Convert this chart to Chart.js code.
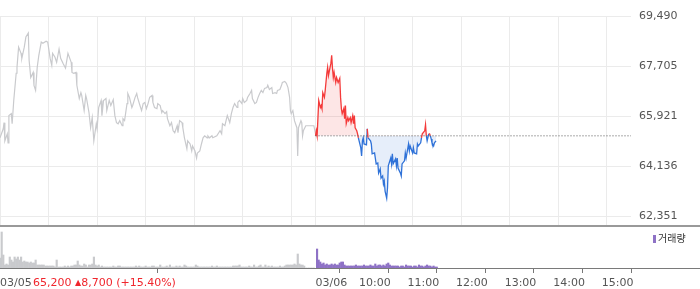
<!DOCTYPE html>
<html>
<head>
<meta charset="utf-8">
<script src="https://cdn.jsdelivr.net/npm/chart.js@4.4.1/dist/chart.umd.min.js"></script>
<style>
    html, body { margin: 0; padding: 0; background: #fff; }
    #wrap { position: relative; width: 700px; height: 289px; overflow: hidden; font-family: "DejaVu Sans", sans-serif; }
    #priceBox { position: absolute; left: 0; top: 0; width: 700px; height: 225px; overflow: hidden; }
    #volumeBox { position: absolute; left: 0; top: 227px; width: 700px; height: 62px; }
    .sep { position: absolute; left: 0; top: 225px; width: 700px; height: 2px; background: #999; }
    .baseline { position: absolute; left: 0; top: 268px; width: 700px; height: 1px; background: #7a7a7a; }
    #legend { position: absolute; left: 653px; top: 232px; font-size: 10px; color: #333; line-height: 12px; font-family: "Noto Sans CJK KR", sans-serif; }
    #legend i { display: inline-block; width: 3px; height: 8px; background: #8e72c6; margin-right: 2px; vertical-align: -1px; }
    #quote { position: absolute; left: 33px; top: 276px; font-size: 11px; line-height: 14px; color: #f0262d; white-space: nowrap; }
    #quote .tri { font-size: 8px; vertical-align: 1px; }
</style>
</head>
<body>
<div id="wrap">
    <div id="priceBox"><canvas id="priceChart" width="700" height="241"></canvas></div>
    <div class="sep"></div>
    <div id="volumeBox"><canvas id="volumeChart" width="700" height="62"></canvas></div>
    <div class="baseline"></div>
    <div id="legend"><i></i>거래량</div>
    <div id="quote">65,200 <span class="tri">▲</span>8,700 (+15.40%)</div>
</div>
<script>
// 03/05 시세 (09:00 기준 경과 분, 가격)
const prevMinutes = [0, 4, 5, 6, 9, 10, 11, 14, 15, 17, 20, 21, 23, 26, 27, 30, 32, 35, 36, 38,
    41, 42, 44, 46, 48, 51, 53, 57, 59, 62, 64, 65, 68, 70, 73, 75, 78, 81, 84, 88,
    89, 91, 94, 95, 98, 100, 101, 104, 106, 107, 110, 112, 114, 116, 119, 120, 122, 125, 126, 128,
    131, 132, 135, 137, 140, 142, 144, 146, 148, 151, 152, 154, 157, 158, 160, 163, 164, 167, 169, 170,
    173, 175, 177, 179, 181, 183, 185, 188, 189, 191, 194, 195, 198, 200, 201, 204, 206, 207, 210, 212,
    214, 216, 219, 220, 222, 225, 226, 228, 231, 232, 235, 237, 238, 241, 243, 244, 247, 249, 251, 253,
    256, 257, 259, 262, 263, 268, 272, 274, 275, 278, 280, 281, 284, 286, 288, 290, 293, 294, 296, 299,
    300, 302, 305, 306, 309, 311, 312, 315, 317, 319, 321, 323, 325, 327, 330, 331, 333, 336, 337, 340,
    342, 343, 346, 348, 349, 352, 354, 356, 358, 359, 360, 362, 364, 367, 368, 369, 372, 373, 374, 375,
    378, 383, 388, 390];
const prevPrices = [65150, 65470, 65690, 65040, 65290, 64970, 65940, 66010, 65650, 66480, 67450, 67660, 68380, 68160, 67980, 68380, 68740, 68880, 67910, 67300,
    67480, 67020, 66840, 67660, 68090, 68560, 68520, 68590, 68560, 67980, 67730, 68160, 68020, 67840, 68310, 67980, 67800, 67630, 68160, 67840,
    67480, 67450, 67480, 67020, 66550, 66760, 66660, 66120, 66660, 66550, 66050, 65510, 65870, 65040, 65650, 65470, 66230, 66480, 65940, 66480,
    66550, 66120, 66480, 66300, 66510, 65940, 65690, 65650, 65760, 65580, 65830, 65760, 66370, 66730, 66590, 66230, 66300, 66590, 66730, 66590,
    66300, 66120, 66370, 66410, 66190, 66370, 66590, 66660, 66410, 66230, 66190, 66370, 66300, 66050, 66120, 66010, 66080, 65830, 65580, 65690,
    65400, 65330, 65580, 65330, 65760, 65690, 65510, 65150, 64760, 65040, 64930, 64680, 64860, 64680, 64430, 64610, 64680, 64930, 65150, 65220,
    65150, 65220, 65150, 65220, 65150, 65220, 65400, 65290, 65650, 65580, 65830, 65940, 65690, 66010, 66230, 66370, 66230, 66410, 66480, 66370,
    66550, 66410, 66480, 66590, 66730, 66840, 66550, 66370, 66410, 66590, 66730, 66840, 66760, 66910, 66940, 67020, 66870, 66940, 66730, 66760,
    66730, 66840, 66870, 67020, 67120, 67160, 67090, 66940, 66590, 66120, 66010, 66120, 65760, 65510, 64500, 65510, 65760, 65690, 65220, 65400,
    65580, 65580, 65580, 65290];

// 03/06 시세 (09:00 기준 경과 분, 가격)
const curMinutes = [0, 1, 2, 4, 6, 7, 8, 9, 11, 12, 14, 15, 16, 19, 20, 21, 22, 23, 25, 26,
    28, 30, 31, 32, 33, 35, 36, 37, 38, 40, 41, 43, 44, 46, 47, 48, 49, 51, 52, 53,
    56, 57, 58, 59, 60, 63, 64, 65, 68, 69, 70, 73, 75, 77, 78, 80, 81, 83, 84, 85,
    86, 88, 89, 90, 93, 94, 95, 96, 99, 100, 101, 102, 105, 106, 107, 110, 111, 112, 115, 116,
    117, 120, 121, 122, 125, 126, 127, 130, 131, 132, 135, 136, 137, 138, 140, 141, 142, 143, 144, 146,
    147, 149];
const curPrices = [65220, 65400, 65220, 66480, 66230, 66300, 66190, 66760, 66590, 66840, 67450, 67660, 67370, 67800, 68090, 67630, 67300, 67480, 67120, 67300,
    67120, 67270, 66590, 66190, 66010, 66190, 65830, 66300, 65650, 65870, 65760, 65870, 65690, 65940, 65650, 65940, 65510, 65400, 65290, 65150,
    64790, 64500, 65040, 65150, 64930, 64900, 65470, 65150, 65040, 64930, 64580, 64610, 64220, 64250, 63890, 64040, 63710, 63790, 63500, 63610,
    63250, 63000, 63360, 64150, 64430, 64220, 64580, 64220, 64400, 64150, 64430, 64070, 63890, 63790, 64220, 64330, 64610, 64430, 64930, 64680,
    64860, 64610, 64790, 64610, 64580, 64930, 64860, 64970, 65150, 65290, 65400, 65620, 65220, 65040, 65290, 65290, 65220, 65110, 64970, 64860,
    64970, 65040];

const basePrice = 65220;

// 거래량 (2분 단위, 천 주)
const prevVolume = [10, 36, 13, 3, 4, 3, 11, 8, 6, 11, 9, 11, 8, 11, 6, 7, 6, 6, 5, 6,
    5, 5, 8, 3, 3, 3, 3, 3, 2, 2, 2, 2, 2, 2, 1, 8, 1, 1, 1, 1,
    2, 1, 2, 1, 2, 2, 3, 3, 7, 3, 2, 2, 4, 3, 1, 3, 3, 4, 11, 3,
    2, 3, 1, 2, 1, 1, 1, 1, 1, 1, 2, 1, 1, 2, 2, 1, 1, 1, 1, 1,
    1, 1, 1, 1, 2, 1, 2, 1, 1, 1, 2, 1, 1, 1, 2, 2, 1, 1, 1, 3,
    1, 1, 1, 2, 1, 3, 1, 1, 1, 2, 1, 2, 1, 1, 3, 2, 1, 1, 1, 1,
    1, 3, 2, 1, 1, 1, 1, 1, 1, 1, 1, 2, 1, 1, 2, 1, 1, 1, 1, 1,
    1, 1, 1, 1, 2, 2, 2, 2, 3, 1, 1, 1, 1, 1, 2, 1, 1, 3, 1, 1,
    2, 3, 1, 1, 3, 1, 2, 1, 2, 1, 1, 1, 1, 2, 1, 1, 2, 3, 3, 3,
    3, 3, 4, 3, 14, 4, 3, 3, 2, 0, 0, 0, 0, 0, 0];
const curVolume = [19, 8, 6, 4, 5, 3, 4, 3, 3, 4, 3, 4, 3, 3, 5, 6, 6, 3, 2, 2,
    2, 2, 2, 2, 3, 2, 2, 2, 2, 3, 2, 2, 2, 3, 2, 2, 4, 2, 3, 3,
    2, 3, 2, 4, 5, 3, 2, 2, 2, 2, 2, 1, 2, 2, 1, 3, 2, 2, 2, 1,
    2, 2, 1, 3, 2, 2, 1, 2, 3, 2, 2, 1, 2, 1, 1];

const yTicks = [69490, 67705, 65921, 64136, 62351];
const gridMinutes = [0, 60, 120, 180, 240, 300, 360, 390, 450, 510, 570, 630, 690, 750];
const axisTicks = [0, 390, 450, 510, 570, 630, 690, 750];
const axisLabels = ['03/05', '03/06', '10:00', '11:00', '12:00', '13:00', '14:00', '15:00'];

const DAY = 390; // 09:00~15:30
const RED = '#f43a3a';
const BLUE = '#2f72d8';
const GRAY = '#c9cacd';
const AXIS_W = 69;

const prevLine = prevMinutes.map((m, i) => ({ x: m, y: prevPrices[i] }));
const curLine = curMinutes.map((m, i) => ({ x: DAY + m, y: curPrices[i] }));

new Chart(document.getElementById('priceChart'), {
    type: 'line',
    data: {
        datasets: [
            {
                // 기준가 점선
                data: [{ x: DAY, y: basePrice }, { x: 2 * DAY, y: basePrice }],
                borderColor: '#555',
                borderWidth: 1,
                borderDash: [1, 2],
                pointRadius: 0
            },
            {
                data: curLine,
                borderWidth: 1.3,
                pointRadius: 0,
                segment: {
                    borderColor: ctx => (ctx.p0.parsed.y + ctx.p1.parsed.y) / 2 >= basePrice ? RED : BLUE
                },
                fill: {
                    target: { value: basePrice },
                    above: 'rgba(240, 60, 60, 0.13)',
                    below: 'rgba(47, 114, 216, 0.12)'
                }
            },
            {
                data: prevLine,
                borderColor: GRAY,
                borderWidth: 1.2,
                pointRadius: 0
            }
        ]
    },
    options: {
        responsive: false,
        animation: false,
        layout: { padding: { top: 16, bottom: 0, left: 0, right: 0 } },
        plugins: { legend: { display: false }, tooltip: { enabled: false } },
        scales: {
            x: {
                type: 'linear',
                min: 0,
                max: 2 * DAY,
                afterBuildTicks: s => { s.ticks = gridMinutes.map(v => ({ value: v })); },
                afterFit: s => { s.height = 0; },
                ticks: { display: false },
                grid: { color: '#ebebeb', drawTicks: false },
                border: { display: false }
            },
            y: {
                position: 'right',
                min: 61993,
                max: 69490,
                afterBuildTicks: s => { s.ticks = yTicks.map(v => ({ value: v })); },
                afterFit: s => { s.width = AXIS_W; },
                ticks: {
                    padding: 8,
                    color: '#555',
                    font: { family: 'DejaVu Sans', size: 11 },
                    callback: v => v.toLocaleString('en-US')
                },
                grid: { color: '#ebebeb', drawTicks: false },
                border: { display: false }
            }
        }
    }
});

// 시간축 라벨
const timeLabels = {
    id: 'timeLabels',
    afterDraw(chart) {
        const xs = chart.scales.x;
        const ctx = chart.ctx;
        ctx.save();
        ctx.font = '11px "DejaVu Sans"';
        ctx.fillStyle = '#555';
        ctx.textBaseline = 'middle';
        ctx.textAlign = 'left';
        axisTicks.forEach((v, i) => {
            const px = xs.getPixelForValue(v);
            ctx.fillText(axisLabels[i], i < 2 ? px : px - 5, 56);
        });
        ctx.restore();
    }
};

new Chart(document.getElementById('volumeChart'), {
    type: 'bar',
    data: {
        datasets: [
            {
                data: prevVolume.map((v, i) => ({ x: 2 * i + 1, y: v })),
                backgroundColor: GRAY,
                barThickness: 1.5
            },
            {
                data: curVolume.map((v, i) => ({ x: DAY + 2 * i + 1, y: v })),
                backgroundColor: '#8e72c6',
                barThickness: 1.5
            }
        ]
    },
    options: {
        responsive: false,
        animation: false,
        layout: { padding: { top: 1, right: AXIS_W, left: 0, bottom: 0 } },
        plugins: { legend: { display: false }, tooltip: { enabled: false } },
        scales: {
            x: {
                type: 'linear',
                min: 0,
                max: 2 * DAY,
                offset: false,
                afterBuildTicks: s => { s.ticks = axisTicks.map(v => ({ value: v })); },
                afterFit: s => { s.height = 21; },
                ticks: { display: false },
                grid: { drawOnChartArea: false, drawTicks: true, tickLength: 5, color: '#777' },
                border: { display: false }
            },
            y: {
                display: false,
                min: 0,
                max: 40
            }
        }
    },
    plugins: [timeLabels]
});
</script>
</body>
</html>
